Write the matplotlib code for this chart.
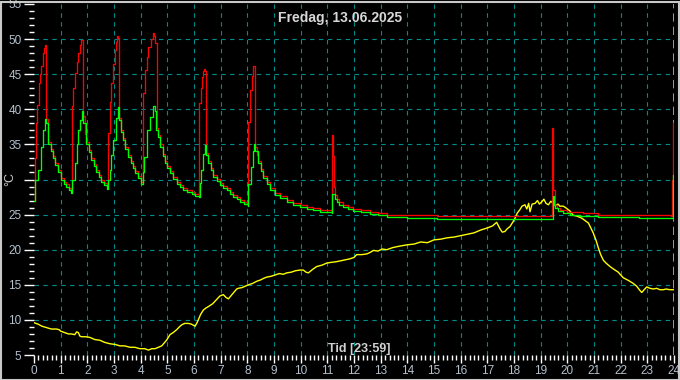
import matplotlib
matplotlib.use("Agg")
import matplotlib.pyplot as plt
from matplotlib.patches import Rectangle
from matplotlib.ticker import MultipleLocator

title = "Fredag, 13.06.2025"
xlabel = "Tid [23:59]"
ylabel = "°C"

green_h = [0.00, 0.05, 0.15, 0.25, 0.34, 0.42, 0.46, 0.53, 0.62, 0.71, 0.80, 0.90, 1.02, 1.12, 1.21, 1.30, 1.40,
           1.42, 1.53, 1.60, 1.65, 1.72, 1.80, 1.85, 1.96, 2.05, 2.15, 2.25, 2.34, 2.43, 2.52, 2.62, 2.75,
           2.79, 2.84, 2.90, 2.96, 3.06, 3.15, 3.20, 3.27, 3.34, 3.43, 3.52, 3.62, 3.71, 3.80, 3.90, 4.03,
           4.08, 4.13, 4.22, 4.35, 4.47, 4.52, 4.58, 4.65, 4.73, 4.82, 4.91, 5.00, 5.10, 5.22, 5.35, 5.48,
           5.60, 5.75, 5.91, 6.05, 6.19, 6.22, 6.25, 6.32, 6.40, 6.46, 6.54, 6.63, 6.73, 6.85, 6.98, 7.10,
           7.23, 7.35, 7.47, 7.60, 7.72, 7.88, 8.02, 8.04, 8.12, 8.20, 8.25, 8.30, 8.41, 8.50, 8.60, 8.72,
           8.85, 9.03, 9.23, 9.47, 9.72, 9.97, 10.23, 10.48, 10.73, 10.95, 11.16, 11.18, 11.22, 11.28, 11.35,
           11.45, 11.60, 11.78, 11.97, 12.25, 12.60, 12.90, 13.22, 13.60, 13.97, 15.10, 16.50, 17.50, 19.44,
           19.45, 19.50, 19.54, 19.65, 19.85, 20.10, 20.48, 21.15, 22.70, 23.92, 23.95, 23.98, 24.00]
green_t = [27.0, 29.9, 31.4, 34.7, 37.0, 38.6, 38.0, 35.1, 34.0, 33.0, 32.0, 31.1, 29.9, 29.4, 29.0, 28.5, 28.1,
           30.0, 32.3, 35.0, 37.0, 38.5, 39.7, 38.0, 35.1, 33.9, 32.8, 31.9, 31.1, 30.4, 29.7, 29.2, 28.7,
           30.0, 31.4, 33.5, 35.6, 38.7, 40.3, 38.5, 36.8, 35.6, 34.3, 33.2, 32.3, 31.6, 30.9, 30.2, 29.4,
           31.0, 33.2, 37.0, 38.9, 40.4, 39.8, 37.0, 36.0, 34.7, 33.4, 32.3, 31.6, 30.9, 30.1, 29.4, 28.9,
           28.5, 28.2, 27.9, 27.7, 27.5, 29.5, 31.4, 33.7, 34.9, 33.5, 32.3, 31.3, 30.4, 29.8, 29.2, 28.8,
           28.5, 27.9, 27.5, 27.2, 26.8, 26.5, 26.2, 29.4, 31.8, 34.0, 35.1, 34.0, 32.3, 31.2, 30.2, 29.3,
           28.5, 27.8, 27.3, 26.8, 26.4, 26.1, 25.8, 25.6, 25.4, 25.3, 25.2, 28.0, 28.0, 27.2, 26.8,
           26.4, 26.1, 25.8, 25.5, 25.3, 25.1, 24.9, 24.7, 24.6, 24.5, 24.4, 24.4, 24.4, 24.4,
           27.7, 26.4, 25.9, 25.5, 25.2, 25.0, 24.8, 24.6, 24.5, 24.5, 28.5, 30.6, 30.6]

red_h = [0.00, 0.04, 0.08, 0.12, 0.17, 0.21, 0.25, 0.32, 0.37, 0.40, 0.44, 0.46, 0.53, 0.62, 0.71, 0.80, 0.90,
         1.02, 1.12, 1.21, 1.30, 1.40, 1.42, 1.48, 1.53, 1.60, 1.65, 1.72, 1.78, 1.82, 1.90, 1.96, 2.05,
         2.15, 2.25, 2.34, 2.43, 2.52, 2.62, 2.75, 2.78, 2.84, 2.90, 2.96, 3.02, 3.08, 3.12, 3.16, 3.18,
         3.27, 3.34, 3.43, 3.52, 3.62, 3.71, 3.80, 3.90, 4.03, 4.07, 4.16, 4.22, 4.29, 4.37, 4.45, 4.50,
         4.55, 4.60, 4.65, 4.73, 4.82, 4.91, 5.00, 5.10, 5.22, 5.35, 5.48, 5.60, 5.75, 5.91, 6.05, 6.19,
         6.20, 6.25, 6.29, 6.34, 6.38, 6.43, 6.46, 6.54, 6.63, 6.73, 6.85, 6.98, 7.10, 7.23, 7.35, 7.47,
         7.60, 7.72, 7.88, 8.00, 8.02, 8.10, 8.16, 8.21, 8.23, 8.27, 8.29, 8.35, 8.41, 8.50, 8.60, 8.72,
         8.85, 9.03, 9.23, 9.47, 9.72, 9.97, 10.23, 10.48, 10.73, 10.95, 11.16, 11.17, 11.20, 11.24, 11.28,
         11.35, 11.45, 11.60, 11.78, 11.97, 12.25, 12.60, 12.90, 13.22, 13.97, 15.10, 17.50, 19.42, 19.43,
         19.47, 19.52, 19.60, 19.72, 19.97, 20.60, 21.15, 23.90, 23.93, 23.97, 24.00]
red_t = [27.0, 33.0, 38.0, 40.6, 43.7, 45.0, 46.1, 48.0, 48.8, 49.2, 49.0, 38.6, 35.4, 34.3, 33.3, 32.3, 31.4,
         30.2, 29.7, 29.3, 28.8, 28.3, 40.4, 43.0, 45.1, 46.8, 48.0, 49.2, 49.9, 39.0, 36.5, 35.4, 34.2,
         33.1, 32.2, 31.4, 30.7, 30.0, 29.5, 29.0, 36.6, 41.0, 43.7, 46.5, 48.4, 49.6, 50.4, 50.2, 38.8,
         37.1, 35.9, 34.6, 33.5, 32.6, 31.9, 31.2, 30.5, 29.7, 42.3, 45.6, 47.5, 48.9, 50.0, 50.8, 50.5,
         49.5, 37.3, 36.3, 35.0, 33.7, 32.6, 31.9, 31.2, 30.4, 29.7, 29.2, 28.8, 28.5, 28.2, 28.0, 27.8,
         40.9, 43.0, 44.6, 45.4, 45.8, 45.5, 33.8, 32.6, 31.6, 30.7, 30.1, 29.5, 29.1, 28.8, 28.2, 27.8,
         27.5, 27.1, 26.8, 26.5, 38.2, 42.7, 44.8, 45.8, 46.2, 45.0, 34.7, 33.5, 32.6, 31.5, 30.5, 29.6,
         28.8, 28.1, 27.6, 27.1, 26.7, 26.4, 26.1, 25.9, 25.7, 25.6, 25.5, 36.3, 33.3, 29.0, 27.8,
         27.2, 26.8, 26.4, 26.1, 25.8, 25.6, 25.3, 25.2, 25.0, 24.9, 24.8, 24.8, 24.8, 37.4,
         28.5, 26.3, 26.0, 25.7, 25.4, 25.2, 24.9, 24.8, 30.0, 38.0, 38.0]

yellow_h = [0.00, 0.15, 0.30, 0.47, 0.65, 0.84, 0.95, 1.00, 1.15, 1.29, 1.40, 1.53, 1.60, 1.66, 1.72, 1.78, 1.95,
            2.10, 2.28, 2.47, 2.65, 2.85, 3.05, 3.22, 3.40, 3.60, 3.78, 3.97, 4.15, 4.29, 4.42, 4.54, 4.67,
            4.79, 4.88, 4.97, 5.10, 5.22, 5.35, 5.45, 5.54, 5.65, 5.79, 5.90, 6.04, 6.10, 6.16, 6.25, 6.35,
            6.45, 6.54, 6.70, 6.85, 6.97, 7.10, 7.20, 7.29, 7.40, 7.47, 7.60, 7.66, 7.80, 7.92, 8.04, 8.20,
            8.35, 8.50, 8.60, 8.73, 8.88, 9.04, 9.20, 9.35, 9.48, 9.65, 9.80, 9.97, 10.10, 10.20, 10.29, 10.45,
            10.60, 10.80, 10.98, 11.15, 11.35, 11.60, 11.85, 12.00, 12.10, 12.30, 12.48, 12.60, 12.73, 12.90,
            13.05, 13.23, 13.45, 13.70, 14.00, 14.25, 14.50, 14.75, 15.00, 15.25, 15.50, 15.75, 16.00, 16.25,
            16.50, 16.75, 17.00, 17.20, 17.35, 17.47, 17.56, 17.66, 17.75, 17.85, 17.95, 18.04, 18.12, 18.22,
            18.30, 18.41, 18.48, 18.55, 18.60, 18.68, 18.79, 18.88, 18.95, 19.04, 19.12, 19.20, 19.29, 19.38,
            19.47, 19.56, 19.65, 19.72, 19.85, 19.97, 20.10, 20.22, 20.35, 20.54, 20.65, 20.79, 20.88, 20.97,
            21.07, 21.16, 21.25, 21.35, 21.45, 21.60, 21.75, 21.91, 22.00, 22.10, 22.30, 22.47, 22.60, 22.70,
            22.79, 22.88, 22.98, 23.10, 23.22, 23.35, 23.47, 23.60, 23.70, 23.85, 24.00]
yellow_t = [9.6, 9.4, 9.1, 8.9, 8.7, 8.7, 8.6, 8.4, 8.2, 8.0, 8.0, 7.9, 8.3, 8.2, 7.7, 7.6, 7.6,
            7.5, 7.2, 7.1, 6.8, 6.6, 6.5, 6.3, 6.3, 6.1, 6.1, 5.9, 5.9, 5.7, 5.9, 5.9, 6.1,
            6.3, 6.7, 7.1, 7.9, 8.2, 8.6, 9.0, 9.3, 9.5, 9.5, 9.4, 9.1, 9.5, 10.0, 10.8, 11.4,
            11.7, 11.9, 12.3, 12.9, 13.4, 13.6, 13.2, 13.0, 13.5, 13.8, 14.4, 14.5, 14.6, 14.8, 15.0, 15.2,
            15.5, 15.7, 15.9, 16.1, 16.2, 16.4, 16.6, 16.5, 16.7, 16.8, 17.0, 17.1, 17.1, 16.8, 16.7, 17.2,
            17.6, 17.8, 18.1, 18.2, 18.3, 18.5, 18.7, 18.9, 19.3, 19.3, 19.4, 19.6, 19.9, 19.8,
            20.1, 20.0, 20.3, 20.5, 20.7, 20.8, 21.1, 21.0, 21.4, 21.5, 21.7, 21.8, 22.0, 22.2,
            22.4, 22.8, 23.1, 23.4, 23.9, 23.0, 22.5, 22.6, 23.0, 23.3, 23.9, 24.5, 25.2, 25.7,
            26.2, 26.4, 25.8, 26.6, 25.4, 26.5, 26.6, 27.0, 26.5, 26.8, 27.2, 26.6, 26.4, 26.9,
            26.6, 26.3, 26.5, 26.2, 26.2, 25.9, 25.5, 24.9, 24.8, 24.5, 24.2, 23.8, 23.1, 22.4,
            21.4, 20.3, 19.3, 18.5, 18.1, 17.6, 17.2, 16.8, 16.4, 16.0, 15.6, 15.2, 14.8, 14.3,
            13.9, 14.3, 14.7, 14.5, 14.4, 14.5, 14.3, 14.3, 14.4, 14.3, 14.3]

x_ticks = list(range(0, 25))
y_ticks = list(range(5, 56, 5))
# the unit label covers the 30 position on the left, as in the original
y_tick_labels = ['' if v == 30 else str(v) for v in y_ticks]

plt.rcParams['font.family'] = ['Liberation Sans', 'DejaVu Sans']

fig = plt.figure(figsize=(6.8, 3.8), dpi=100, facecolor='black')
ax = fig.add_axes([34 / 680, 25 / 380, 640 / 680, 351 / 380], facecolor='black')
ax.set_xlim(0, 24)
ax.set_ylim(5, 55)

grid_col = '#008C8C'
for xv in x_ticks[1:-1]:
    ax.axvline(xv, color=grid_col, lw=0.8, ls=(0, (4, 4)), zorder=1)
for yv in y_ticks[1:-1]:
    ax.axhline(yv, color=grid_col, lw=0.8, ls=(0, (4, 4)), zorder=1)
ax.axvline(24, color='#40E8F0', lw=1.2, ls=(0, (5, 3)), zorder=1)

ax.plot(yellow_h, yellow_t, color='#FFFF00', lw=1.0, zorder=3)
ax.plot(red_h, red_t, color='#FF0000', lw=0.95, drawstyle='steps-post', zorder=4)
ax.plot(green_h, green_t, color='#00FF00', lw=0.95, drawstyle='steps-post', zorder=5)

for s in ax.spines.values():
    s.set_visible(False)

lab_col = '#B4C0CC'
ax.set_xticks(x_ticks)
ax.set_yticks(y_ticks)
ax.set_yticklabels(y_tick_labels)
ax.xaxis.set_minor_locator(MultipleLocator(1 / 6))
ax.yaxis.set_minor_locator(MultipleLocator(1))
ax.tick_params(axis='x', which='major', direction='out', length=6, width=1, color='white',
               labelcolor=lab_col, labelsize=8.5, pad=1)
ax.tick_params(axis='x', which='minor', direction='out', length=3.5, width=1, color='white')
ax.tick_params(axis='y', which='major', direction='out', length=7, width=1, color='white',
               labelcolor=lab_col, labelsize=8.5, pad=2)
ax.tick_params(axis='y', which='minor', direction='out', length=3.5, width=1, color='white')

fig.text(340 / 680, 1 - 18 / 380, title, color='#D8D8D8', fontsize=10, fontweight='bold',
         ha='center', va='center')
fig.text(359 / 680, 1 - 349 / 380, xlabel, color='#D0D0D0', fontsize=9, fontweight='bold',
         ha='center', va='center')
fig.text(10 / 680, 1 - 179 / 380, ylabel, color='#D0D0D0', fontsize=9, rotation=90,
         ha='center', va='center')

fig.patches.append(Rectangle((0.5 / 680, 0.5 / 380), 678.5 / 680, 377.5 / 380, transform=fig.transFigure,
                             fill=False, edgecolor='#C8C8C8', lw=1.5))

fig.savefig('out.png', dpi=100, facecolor='black')
